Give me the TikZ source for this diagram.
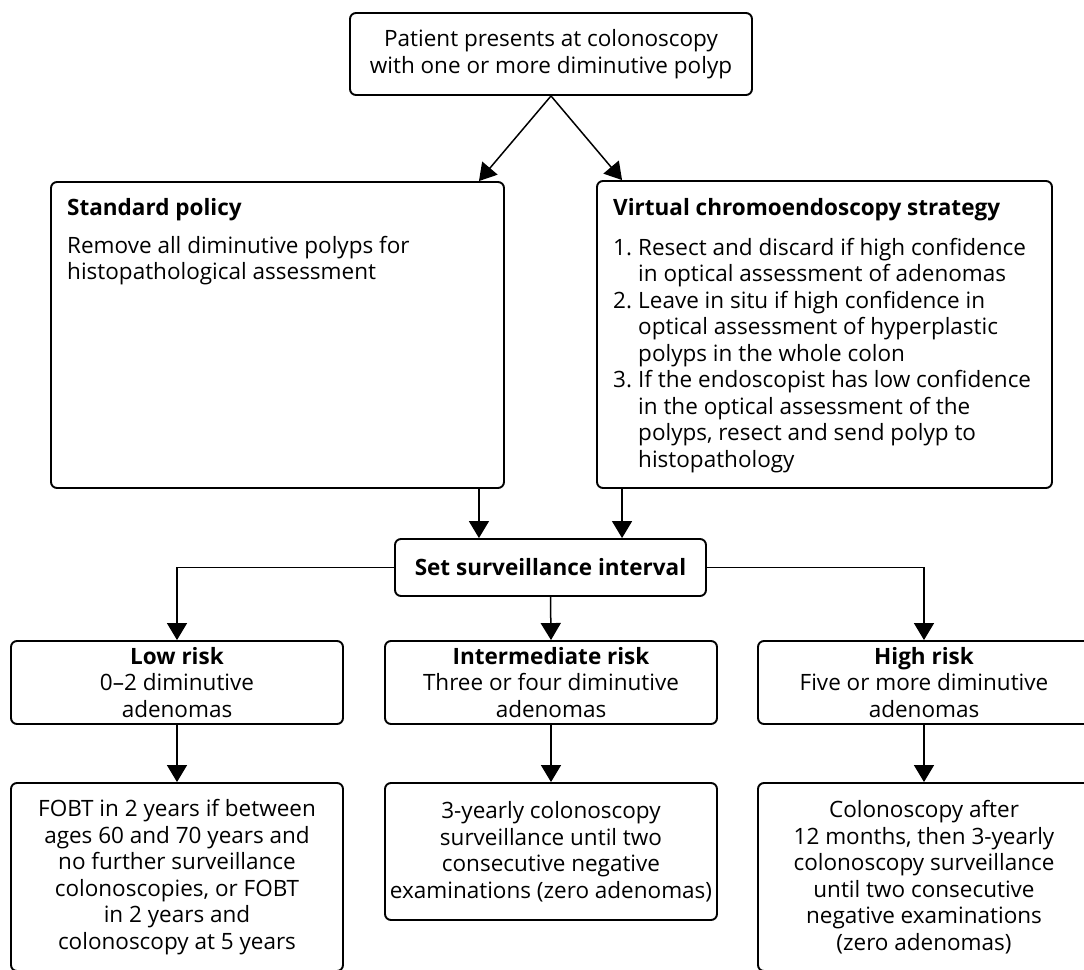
\documentclass[tikz,border=0pt]{standalone}
\usepackage{fontspec}
\setmainfont{Open Sans}
\usetikzlibrary{arrows.meta}
\begin{document}
\begin{tikzpicture}[x=1pt,y=-1pt,
  box/.style={draw, line width=1.9pt, rounded corners=6pt, inner sep=0pt, align=center,
    font=\fontsize{22.5}{26.5}\selectfont},
  txt/.style={inner sep=0pt, font=\fontsize{22.5}{26.5}\selectfont},
  arr/.style={line width=1.5pt, -{Triangle[length=17pt,width=20pt]}}]
\clip (0,0) rectangle (1084,969);
\fill[white] (0,0) rectangle (1084,969);
% boxes
\node[box, minimum width=402pt, minimum height=82pt] (top) at (551,54)
  {Patient presents at colonoscopy\\with one or more diminutive polyp};
\node[box, minimum width=453pt, minimum height=306pt] (std) at (277.5,335) {};
\node[box, minimum width=455pt, minimum height=307pt] (vc) at (824.5,334.5) {};
\node[box, minimum width=311pt, minimum height=57pt] (set) at (550.5,567.5)
  {\bfseries Set surveillance interval};
\node[box, minimum width=332pt, minimum height=83pt] (low) at (177,682.5)
  {{\bfseries Low risk}\\0--2 diminutive\\adenomas};
\node[box, minimum width=332pt, minimum height=83pt] (int) at (551,682.5)
  {{\bfseries Intermediate risk}\\Three or four diminutive\\adenomas};
\node[box, minimum width=332pt, minimum height=83pt] (high) at (924,682.5)
  {{\bfseries High risk}\\Five or more diminutive\\adenomas};
\node[box, minimum width=332pt, minimum height=188pt] (lowb) at (177,877)
  {FOBT in 2 years if between\\ages 60 and 70 years and\\no further surveillance\\colonoscopies, or FOBT\\in 2 years and\\colonoscopy at 5 years};
\node[box, minimum width=332pt, minimum height=137pt] (intb) at (551,851.5)
  {3-yearly colonoscopy\\surveillance until two\\consecutive negative\\examinations (zero adenomas)};
\node[box, minimum width=332pt, minimum height=188pt] (highb) at (924,877)
  {Colonoscopy after\\12 months, then 3-yearly\\colonoscopy surveillance\\until two consecutive\\negative examinations\\(zero adenomas)};
% texts in the two upper boxes
\node[txt, anchor=base west] (stdh) at (67,215) {\bfseries Standard policy};
\node[txt, anchor=base west] (stdb) at (67,253)
  {\vtop{\hbox{Remove all diminutive polyps for}\hbox{histopathological assessment}}};
\node[txt, anchor=base west] (vch) at (613,215) {\bfseries Virtual chromoendoscopy strategy};
\node[txt, anchor=base west] (vcb) at (613,255)
  {\vtop{%
   \hbox{\makebox[25pt][l]{1.}Resect and discard if high confidence}
   \hbox{\hspace*{25pt}in optical assessment of adenomas}
   \hbox{\makebox[25pt][l]{2.}Leave in situ if high confidence in}
   \hbox{\hspace*{25pt}optical assessment of hyperplastic}
   \hbox{\hspace*{25pt}polyps in the whole colon}
   \hbox{\makebox[25pt][l]{3.}If the endoscopist has low confidence}
   \hbox{\hspace*{25pt}in the optical assessment of the}
   \hbox{\hspace*{25pt}polyps, resect and send polyp to}
   \hbox{\hspace*{25pt}histopathology}}};
% connectors
\draw[arr] (top.south) -- ([xshift=-26pt]std.north east);
\draw[arr] (top.south) -- ([xshift=26pt]vc.north west);
\draw[arr] ([xshift=-26pt]std.south east) -- ([xshift=-26pt]std.south east |- set.north);
\draw[arr] ([xshift=26pt]vc.south west) -- ([xshift=26pt]vc.south west |- set.north);
\draw[arr] (set.west) -| (low.north);
\draw[arr] (set.south) -- (int.north);
\draw[arr] (set.east) -| (high.north);
\draw[arr] (low.south) -- (lowb.north);
\draw[arr] (int.south) -- (intb.north);
\draw[arr] (high.south) -- (highb.north);
\end{tikzpicture}
\end{document}
